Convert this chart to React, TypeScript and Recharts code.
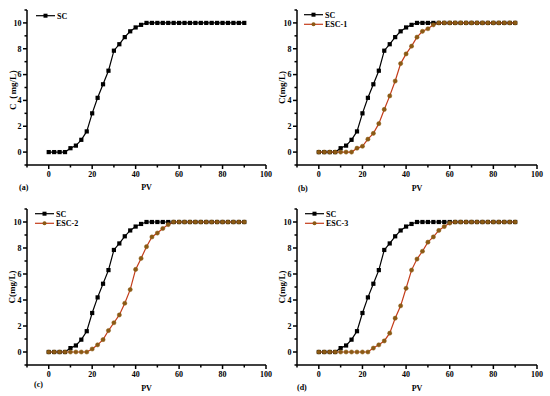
import React from "react";
import { LineChart, Line, XAxis, YAxis } from "recharts";

// PV values (categories)
const pv = [0, 2.5, 5, 7.5, 10, 12.5, 15, 17.5, 20, 22.5, 25, 27.5, 30, 32.5, 35, 37.5, 40, 42.5, 45, 47.5, 50, 52.5, 55, 57.5, 60, 62.5, 65, 67.5, 70, 72.5, 75, 77.5, 80, 82.5, 85, 87.5, 90];

// C (mg/L)
const sc = [0, 0, 0, 0, 0.3, 0.5, 0.95, 1.6, 3.0, 4.2, 5.25, 6.3, 7.85, 8.35, 8.9, 9.35, 9.65, 9.85, 10, 10, 10, 10, 10, 10, 10, 10, 10, 10, 10, 10, 10, 10, 10, 10, 10, 10, 10];
const esc1 = [0, 0, 0, 0, 0, 0, 0, 0.3, 0.45, 1.0, 1.45, 2.2, 3.3, 4.35, 5.5, 6.85, 7.6, 8.2, 8.9, 9.35, 9.55, 9.85, 10, 10, 10, 10, 10, 10, 10, 10, 10, 10, 10, 10, 10, 10, 10];
const esc2 = [0, 0, 0, 0, 0, 0, 0, 0, 0.23, 0.55, 0.95, 1.65, 2.25, 2.85, 3.75, 4.8, 6.35, 7.2, 8.1, 8.85, 9.15, 9.5, 9.8, 10, 10, 10, 10, 10, 10, 10, 10, 10, 10, 10, 10, 10, 10];
const esc3 = [0, 0, 0, 0, 0, 0, 0, 0, 0, 0, 0.3, 0.55, 0.85, 1.45, 2.6, 3.55, 4.9, 6.3, 7.15, 7.75, 8.45, 8.85, 9.35, 9.65, 9.92, 10, 10, 10, 10, 10, 10, 10, 10, 10, 10, 10, 10];

const xTicks = [-10, 0, 10, 20, 30, 40, 50, 60, 70, 80, 90, 100];
const yTicks = [-1, 0, 1, 2, 3, 4, 5, 6, 7, 8, 9, 10, 11];

const FONT = "'Liberation Serif', 'Times New Roman', serif";
const RED = "#C43C1A";
const DOT = "#8B5A14";
const AX = 1.5;

function XTick(props: any) {
  const { x, y, payload } = props;
  const v = payload.value;
  const major = v % 20 === 0;
  return (
    <g>
      <path d={`M${x},${y}V${y + (major ? 4 : 2.5)}`} stroke="#000" strokeWidth={AX} fill="none" />
      {major && (
        <text x={x} y={y + 11.5} textAnchor="middle" fontSize={8} fontWeight="bold" fontFamily={FONT} fill="#000">
          {v}
        </text>
      )}
    </g>
  );
}

function YTick(props: any) {
  const { x, y, payload } = props;
  const v = payload.value;
  const major = v % 2 === 0 && v >= 0 && v <= 10;
  return (
    <g>
      <path d={`M${x},${y}H${x - (major ? 4 : 2.5)}`} stroke="#000" strokeWidth={AX} fill="none" />
      {major && (
        <text x={x - 5.5} y={y + 2.8} textAnchor="end" fontSize={8} fontWeight="bold" fontFamily={FONT} fill="#000">
          {v}
        </text>
      )}
    </g>
  );
}

function SquareDot(props: any) {
  const { cx, cy, index } = props;
  return <rect key={"s" + index} x={cx - 2.1} y={cy - 2.1} width={4.2} height={4.2} fill="#000" />;
}

function RoundDot(props: any) {
  const { cx, cy, index } = props;
  return <circle key={"c" + index} cx={cx} cy={cy} r={2.1} fill={DOT} stroke={DOT} strokeWidth={0.5} />;
}

type PanelProps = {
  esc?: number[];
  escName?: string;
  tag: string;
  yTitle: string;
  left: number;
  right: number;
  top: number;
  xh: number;
  titleX: number;
  tagDx: number;
  tagDy: number;
  pvDy: number;
  legX: number;
  legY: number;
};

function Panel(p: PanelProps) {
  const data = pv.map((v, i) => ({ pv: v, sc: sc[i], esc: p.esc ? p.esc[i] : undefined }));

  // x-axis title, panel tag and the legend
  const bottomLabel = (lp: any) => {
    const vb = lp.viewBox;
    const lx = p.legX;
    const ly = p.legY;
    return (
      <g>
        <text x={vb.x + vb.width / 2} y={vb.y + p.pvDy} textAnchor="middle" fontSize={8} fontWeight="bold" fontFamily={FONT} fill="#000">
          PV
        </text>
        <text x={vb.x + p.tagDx} y={vb.y + p.tagDy} textAnchor="start" fontSize={8} fontWeight="bold" fontFamily={FONT} fill="#000">
          {p.tag}
        </text>
        <g>
          <line x1={lx} x2={lx + 19} y1={ly} y2={ly} stroke="#000" strokeWidth={1.2} />
          <rect x={lx + 7.5} y={ly - 2} width={4} height={4} fill="#000" />
          <text x={lx + 21} y={ly + 2.8} fontSize={8} fontWeight="bold" fontFamily={FONT} fill="#000">SC</text>
          {p.esc && (
            <g>
              <line x1={lx} x2={lx + 19} y1={ly + 9.6} y2={ly + 9.6} stroke={RED} strokeWidth={1.2} />
              <circle cx={lx + 9.5} cy={ly + 9.6} r={2} fill={DOT} />
              <text x={lx + 21} y={ly + 12.4} fontSize={8} fontWeight="bold" fontFamily={FONT} fill="#000">{p.escName}</text>
            </g>
          )}
        </g>
      </g>
    );
  };

  return (
    <LineChart width={275} height={198} data={data} margin={{ top: p.top, right: p.right, left: 0, bottom: 0 }}>
      <XAxis
        type="number"
        dataKey="pv"
        domain={[-10, 100]}
        ticks={xTicks}
        interval={0}
        tick={<XTick />}
        tickSize={0}
        tickMargin={0}
        tickLine={false}
        height={p.xh}
        axisLine={{ stroke: "#000", strokeWidth: AX }}
        label={bottomLabel}
      />
      <YAxis
        type="number"
        domain={[-1, 11]}
        ticks={yTicks}
        interval={0}
        tick={<YTick />}
        tickSize={0}
        tickMargin={0}
        tickLine={false}
        width={p.left}
        axisLine={{ stroke: "#000", strokeWidth: AX }}
        label={{
          value: p.yTitle,
          angle: -90,
          position: "center",
          dx: p.titleX - p.left / 2,
          style: { fontSize: 9, fontWeight: "bold", fontFamily: FONT, fill: "#000" },
        }}
      />
      <Line
        dataKey="sc"
        name="SC"
        stroke="#000"
        strokeWidth={1.2}
        dot={SquareDot}
        isAnimationActive={false}
      />
      {p.esc && (
        <Line
          dataKey="esc"
          name={p.escName}
          stroke={RED}
          strokeWidth={1.2}
          dot={RoundDot}
          isAnimationActive={false}
        />
      )}
    </LineChart>
  );
}

export default function App() {
  return (
    <div style={{ position: "absolute", left: 0, top: 0, width: 550, height: 396, background: "#fff" }}>
      <div style={{ position: "absolute", left: 0, top: 0 }}>
        <Panel tag="(a)" yTitle="C（mg/L）" left={27} right={9} top={10} xh={33} titleX={12.5} tagDx={-8} tagDy={25} pvDy={24.5} legX={36} legY={15.7} />
      </div>
      <div style={{ position: "absolute", left: 275, top: 0 }}>
        <Panel esc={esc1} escName="ESC-1" tag="(b)" yTitle="C(mg/L)" left={22} right={13} top={10} xh={33} titleX={7} tagDx={1} tagDy={26} pvDy={26} legX={29} legY={14.7} />
      </div>
      <div style={{ position: "absolute", left: 0, top: 198 }}>
        <Panel esc={esc2} escName="ESC-2" tag="(c)" yTitle="C(mg/L)" left={27} right={9} top={11} xh={31} titleX={12.3} tagDx={7} tagDy={22} pvDy={25.5} legX={35} legY={15.7} />
      </div>
      <div style={{ position: "absolute", left: 275, top: 198 }}>
        <Panel esc={esc3} escName="ESC-3" tag="(d)" yTitle="C(mg/L)" left={22} right={13} top={11} xh={31} titleX={7} tagDx={0} tagDy={24.5} pvDy={26} legX={30} legY={15.7} />
      </div>
    </div>
  );
}
